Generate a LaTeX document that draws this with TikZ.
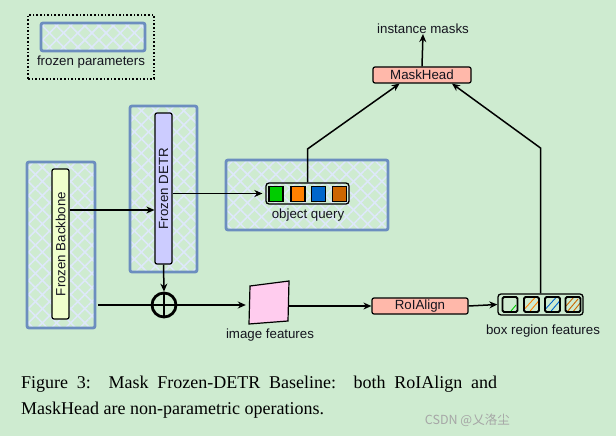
\documentclass[tikz,border=0pt]{standalone}
\usepackage{fontspec}
\setmainfont{Liberation Sans}
\newfontfamily\capfont{Liberation Serif}
\newfontfamily\wmfont{Noto Sans CJK SC}
\usetikzlibrary{arrows.meta,patterns.meta,calc}
\definecolor{bgc}{RGB}{206,235,208}
\definecolor{frzblue}{RGB}{108,142,191}
\definecolor{hatchc}{RGB}{222,232,250}
\definecolor{bbfill}{RGB}{240,255,204}
\definecolor{detrfill}{RGB}{204,204,255}
\definecolor{salmon}{RGB}{255,184,170}
\definecolor{pinkf}{RGB}{255,204,238}
\definecolor{qgreen}{RGB}{0,204,0}
\definecolor{qorange}{RGB}{255,128,0}
\definecolor{qblue}{RGB}{0,102,204}
\definecolor{qdark}{RGB}{204,102,0}
\definecolor{txt}{RGB}{20,20,30}
\newcommand\dfont{\fontsize{13.3}{15}\selectfont}
\tikzset{
  x=1pt, y=-1pt,
  every node/.style={font=\dfont, text=txt},
  frozen/.style={draw=frzblue, line width=2.8pt, rounded corners=2pt, inner sep=0pt,
    preaction={pattern={Lines[angle=45,distance=10pt,line width=1.6pt]}, pattern color=hatchc},
    pattern={Lines[angle=-45,distance=10pt,line width=1.6pt]}, pattern color=hatchc},
  block/.style={draw=black, line width=1.2pt, rounded corners=2pt, inner sep=0pt},
  arr/.style={-{Stealth[length=8pt,width=7pt]}, line width=1.5pt},
  conn/.style={line width=1.5pt},
  qsq/.style={draw=black, line width=1.6pt, minimum width=14pt, minimum height=15pt, inner sep=0pt},
  bar/.style={draw=black, line width=1.3pt, rounded corners=3pt, inner sep=0pt},
  lbl/.style={inner sep=0pt},
}
\begin{document}
\begin{tikzpicture}
\useasboundingbox (0,0) rectangle (616,436);
\fill[bgc] (0,0) rectangle (616,436);

% legend
\node[draw=black, dotted, line width=1.6pt, minimum width=126pt, minimum height=64pt, inner sep=0pt] (leg) at (91,47) {};
\node[frozen, minimum width=104pt, minimum height=28pt] (legfz) at (93,37) {};
\node[lbl] (legtxt) at (91,62) {frozen parameters};

% frozen regions
\node[frozen, minimum width=68pt, minimum height=166pt] (bbfz) at (61,245) {};
\node[frozen, minimum width=67pt, minimum height=166pt] (detrfz) at (163.5,189) {};
\node[frozen, minimum width=162pt, minimum height=70pt] (oqfz) at (307,195) {};

% backbone and DETR
\node[block, fill=bbfill, minimum width=17pt, minimum height=150pt] (bb) at (60.5,244) {};
\node[lbl, rotate=90] (bbt) at (60.5,244) {Frozen Backbone};
\node[block, fill=detrfill, minimum width=17pt, minimum height=151pt] (detr) at (163.5,188.5) {};
\node[lbl, rotate=90] (detrt) at (163.5,188.5) {Frozen DETR};

% object query
\node[bar, minimum width=83pt, minimum height=21pt] (oq) at (307.5,193.5) {};
\node[qsq, fill=qgreen] (q1) at (276,194) {};
\node[qsq, fill=qorange] (q2) at (298,194) {};
\node[qsq, fill=qblue] (q3) at (318.5,194) {};
\node[qsq, fill=qdark] (q4) at (339.5,194) {};
\node[lbl] (oqt) at (308,215) {object query};

% oplus
\node[circle, draw=black, line width=2.8pt, minimum size=24pt, inner sep=0pt] (op) at (164,305) {};

% image features
\node[minimum width=40pt, minimum height=40pt, inner sep=0pt] (imf) at (269,303) {};
\draw[line width=1.2pt, fill=pinkf] (250,286) -- (289,281) -- (288,321) -- (249,324) -- cycle;
\node[lbl] (imft) at (270,335) {image features};

% RoIAlign
\node[block, fill=salmon, minimum width=96pt, minimum height=16pt] (roi) at (420,306) {RoIAlign};

% box region features
\node[bar, minimum width=85pt, minimum height=21pt] (brf) at (540.5,304.5) {};
\foreach \n/\cx/\col/\k in {b1/510/qgreen/1, b2/531.5/qorange/2, b3/552.5/qblue/2, b4/573/qdark/3}{
  \begin{scope}
    \clip (\cx-7,297.5) rectangle (\cx+7,311.5);
    \ifnum\k=1
      \draw[\col, line width=0.9pt] (\cx+1,311) -- (\cx+6,305);
    \else\ifnum\k=2
      \draw[\col, line width=0.9pt] (\cx-7,309) -- (\cx+4,297);
      \draw[\col, line width=0.9pt] (\cx-3,313) -- (\cx+8,300);
    \else
      \draw[\col, line width=0.9pt] (\cx-7,306) -- (\cx+1,297);
      \draw[\col, line width=0.9pt] (\cx-6,312) -- (\cx+5,299);
      \draw[\col, line width=0.9pt] (\cx-1,313) -- (\cx+8,302);
    \fi\fi
  \end{scope}
  \node[draw=black, line width=1.8pt, rounded corners=1.5pt, minimum width=15pt, minimum height=15pt, inner sep=0pt] (\n) at (\cx,304.5) {};
}
\node[lbl] (brft) at (543,331) {box region features};

% MaskHead
\node[block, fill=salmon, minimum width=98pt, minimum height=16pt] (mh) at (422,75) {MaskHead};
\node[lbl] (im) at (423,29) {instance masks};

% connectors
\draw[arr] (bb.east |- 0,210) -- (detr.west |- 0,210);
\draw[arr, shorten >=3pt] (detr.east |- oq.west) -- (oq.west);
\draw[arr] (detr.south) -- (op.north);
\draw[arr, shorten >=3pt] (bbfz.east |- op.center) ++(2,0) -- (imf.west |- op.center);
\draw[line width=2.8pt] (op.west) -- (op.east);
\draw[line width=2.8pt] (op.north) -- (op.south);
\draw[arr] (imf.east |- roi.west) -- (roi.west);
\draw[arr] (roi.east) -- (brf.west);
\draw[arr] (oq.north) -- (oq.north |- 0,149) -- (mh.201.8);
\draw[arr] (brf.north) -- (brf.north |- 0,148) -- (mh.-16.5);
\draw[arr] (mh.north) -- (im.south);

% caption
\node[anchor=base west, inner sep=0pt, text=black] (cap1) at (21,388) {\capfont\fontsize{18}{26}\selectfont\makebox[476pt][s]{Figure 3:\ \ Mask Frozen-DETR Baseline:\ \ both RoIAlign and}};
\node[anchor=base west, inner sep=0pt, text=black] (cap2) at (21,414) {\capfont\fontsize{18}{26}\selectfont MaskHead are non-parametric operations.};
\node[anchor=base east, inner sep=0pt, text=gray!70] (wm) at (510,424) {\wmfont\fontsize{12.5}{14}\selectfont CSDN @乂洛尘};
\end{tikzpicture}
\end{document}
